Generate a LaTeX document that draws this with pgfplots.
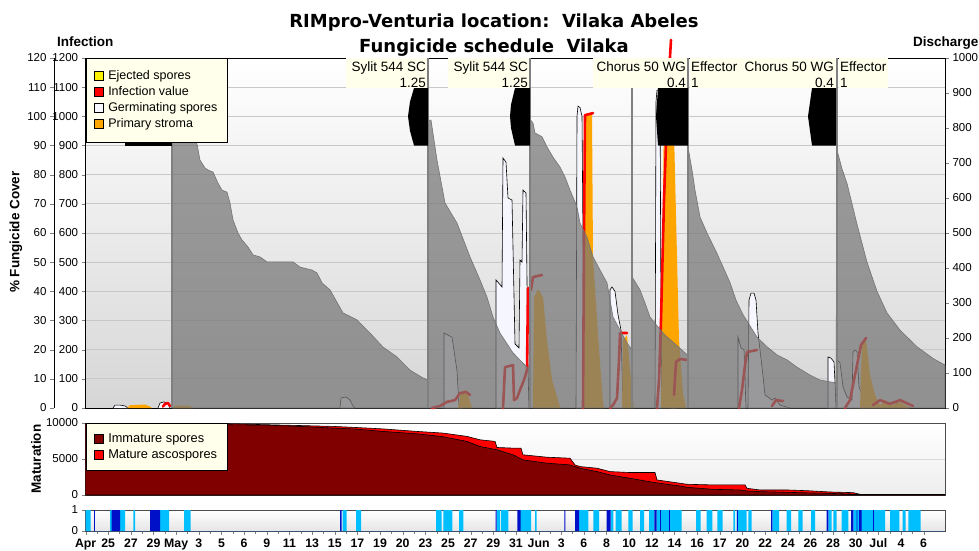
\documentclass[border=0pt]{standalone}
\usepackage{pgfplots}
\pgfplotsset{compat=1.18}
\usepackage{fontspec}
\setmainfont{Liberation Sans}
\newfontfamily\titlefont{DejaVu Sans}
\definecolor{cream}{RGB}{255,255,235}
\definecolor{germ}{RGB}{246,246,255}
\definecolor{stroma}{RGB}{255,165,0}
\definecolor{infred}{RGB}{255,0,0}
\definecolor{coverg}{RGB}{118,118,118}
\definecolor{appline}{RGB}{128,128,128}
\definecolor{immat}{RGB}{128,0,0}
\definecolor{lblue}{RGB}{0,191,255}
\definecolor{dblue}{RGB}{0,16,200}
\definecolor{gridc}{RGB}{200,200,200}
\newcommand\tickfont{\fontsize{11.5}{12}\selectfont}
\newcommand\lblfont{\fontsize{13.5}{16.2}\selectfont}
\pgfplotsset{
  /pgf/number format/assume math mode=true,
  germs/.style={forget plot, fill=germ, draw=black, line width=0.6pt},
  strom/.style={forget plot, fill=stroma, draw=none},
  infl/.style={forget plot, draw=infred, line width=2.6pt, line join=round, line cap=round},
  blk/.style={forget plot, fill=black, draw=none},
  appl/.style={forget plot, draw=appline, line width=2pt},
  sqlegend/.style={legend image code/.code={\draw[##1, draw=black, line width=0.5pt] (0pt,-4.5pt) rectangle (9pt,4.5pt); \path (0pt,0pt) (12pt,0pt);}},
}
\begin{document}
\begin{tikzpicture}
\useasboundingbox (0pt,0pt) rectangle (979pt,550pt);
\node[font=\titlefont\bfseries\fontsize{18}{20}\selectfont, anchor=base] at (494pt,522pt) {RIMpro-Venturia location:\ \ Vilaka Abeles};
\node[font=\titlefont\bfseries\fontsize{18}{20}\selectfont, anchor=base] at (494pt,497pt) {Fungicide schedule\ \ Vilaka};
\node[font=\bfseries\fontsize{13.5}{15}\selectfont, anchor=base west, inner sep=0pt] at (57pt,503pt) {Infection};
\node[font=\bfseries\fontsize{13.5}{15}\selectfont, anchor=base west, inner sep=0pt] at (913pt,503pt) {Discharge};
\node[font=\bfseries\fontsize{13.5}{15}\selectfont, rotate=90] at (16pt,318pt) {\% Fungicide Cover};
\node[font=\bfseries\fontsize{13.5}{15}\selectfont, rotate=90] at (36pt,91pt) {Maturation};

% outer left axis (percent)
\begin{axis}[at={(54pt,142pt)}, anchor=south west, scale only axis, width=31.6pt, height=350pt,
  xmin=0, xmax=1, ymin=0, ymax=120, hide x axis, axis y line*=left,
  ytick={0,10,...,120}, tick align=outside, major tick length=4pt,
  yticklabel style={font=\tickfont}, axis line style={black}]
\addplot[draw=none] coordinates {(0,0)};
\end{axis}

% right axis (discharge)
\begin{axis}[at={(85.6pt,142pt)}, anchor=south west, scale only axis, width=859.4pt, height=350pt,
  xmin=0, xmax=1, ymin=0, ymax=1000, hide x axis, axis y line*=right,
  ytick={0,100,...,1000}, tick align=outside, major tick length=4pt,
  yticklabel style={font=\tickfont}, scaled y ticks=false,
  /pgf/number format/1000 sep={}, axis line style={black}]
\addplot[draw=none] coordinates {(0,0)};
\end{axis}

% main axis
\begin{axis}[at={(85.6pt,142pt)}, anchor=south west, scale only axis, width=859.4pt, height=350pt,
  xmin=85.6, xmax=945, ymin=0, ymax=120, clip=false,
  xtick=\empty, ytick={0,10,...,120},
  yticklabels={0,100,200,300,400,500,600,700,800,900,1000,1100,1200},
  ytick pos=left, tick align=outside, major tick length=4pt,
  yticklabel style={font=\tickfont},
  ymajorgrids, grid style={gridc, line width=1pt},
  axis background/.style={shade, top color=white, bottom color=black!16},
  sqlegend,
  legend style={at={(0,1)}, anchor=north west, fill=cream, draw=black,
    font=\fontsize{12.5}{14}\selectfont, inner xsep=8pt, inner ysep=10.5pt, row sep=1.5pt,
    cells={anchor=west}},
  legend cell align=left]
\addlegendimage{fill=yellow}\addlegendentry{Ejected spores}
\addlegendimage{fill=infred}\addlegendentry{Infection value}
\addlegendimage{fill=germ}\addlegendentry{Germinating spores}
\addlegendimage{fill=stroma}\addlegendentry{Primary stroma}

% germinating spores
\addplot[germs] coordinates {(113,0)(115,1)(120,1)(125,0.7)(128,0)};
\addplot[germs] coordinates {(158,0)(160,1.7)(164,2.1)(168,1.4)(170,0)};
\addplot[germs] coordinates {(340,0)(341,3.4)(346,3.8)(350,2.7)(353,0.7)(355,0)};
\addplot[germs] coordinates {(444,0)(444,25.7)(452,24.3)(457,12.7)(459,1)(462,0)};
\addplot[germs] coordinates {(496,0)(496,43.9)(502,41.5)(503,85.7)(506,84.3)(508,72)(512,71.3)(515,22)(519,20.6)(520,50.7)(522,50)(523,74.7)(526,73.7)(528,13)(529,0)};
\addplot[germs] coordinates {(576,0)(577,100)(578,103.5)(580,103)(582,100)(583,58)(584,0)};
\addplot[germs] coordinates {(610,0)(610,40.5)(612,41.5)(615,40)(618,32)(621,26.7)(623,0)};
\addplot[germs] coordinates {(655,0)(656,105)(657,109)(660,109)(661,30)(662,0)};
\addplot[germs] coordinates {(671,0)(672,19)(675,17)(676,0)};
\addplot[germs] coordinates {(738,0)(738,24.3)(741,20.6)(744,19.9)(746,0)};
\addplot[germs] coordinates {(748,0)(749,37)(751,39.4)(754,39.4)(756,37)(758,25.7)(762,14)(765,4.5)(772,2.7)(775,3.4)(780,1)(790,0)};
\addplot[germs] coordinates {(828,0)(828,17.5)(831,17.1)(834,15.8)(835,8.6)(836,0)};
\addplot[germs] coordinates {(837,0)(837,16.5)(840,15.5)(843,7.2)(847,3.8)(852,2.7)(853,19.2)(855,19.9)(857,19.2)(859,7.2)(865,2.7)(870,1.7)(880,2.7)(887,1)(893,2.1)(900,1)(910,0)};

% primary stroma
\addplot[strom] coordinates {(127,0)(130,1)(145,1.2)(150,0.5)(152,0)};
\addplot[strom] coordinates {(173,0)(175,0.8)(190,0.8)(193,0)};
\addplot[strom] coordinates {(458,0)(461,5.1)(465,6.2)(468,4.5)(472,0)};
\addplot[strom] coordinates {(533,0)(534,38)(538,40.8)(543,38)(547,23.3)(552,9.6)(560,0.3)(561,0)};
\addplot[strom] coordinates {(582,0)(584,58)(586,101)(592,101)(593,51.8)(598,25)(603,1.7)(604,0)};
\addplot[strom] coordinates {(622,0)(623,23.3)(627,25)(630,13)(634,0)};
\addplot[strom] coordinates {(661,0)(662,30)(664,109)(673,109)(679,23.3)(683,5)(686,0)};
\addplot[strom] coordinates {(860,0)(862,21.6)(866,23.3)(870,11.3)(875,4.5)(880,1)(885,2.7)(892,1)(900,2)(910,0)};

% infection value
\addplot[infl] coordinates {(163,0.5)(165,1.4)(168,1.7)(170,0.7)};
\addplot[infl] coordinates {(432,0)(440,0.7)(447,2.1)(455,2.7)(460,5.1)(466,5.5)(470,4.5)};
\addplot[infl] coordinates {(503,0)(505,14)(513,14.7)(514,2.7)(517,3.4)(520,6.2)(524,9.6)(527,13)(528,41.1)(529,41.1)};
\addplot[infl] coordinates {(531,40.5)(533,44.9)(542,45.6)};
\addplot[infl] coordinates {(583,0)(584,58.6)(585,100.4)(593,101.1)};
\addplot[infl] coordinates {(610,0)(613,1)(617,3.4)(619,16.5)(620,25.7)(627,25.7)};
\addplot[infl] coordinates {(657,0)(659,9.6)(661,30.2)(664,71.3)(668,109)(671,126.2)};
\addplot[infl] coordinates {(674,4.5)(676,15.8)(680,16.8)(687,16.5)};
\addplot[infl] coordinates {(739,0)(742,6.2)(745,14.7)(747,19.2)(757,19.9)};
\addplot[infl] coordinates {(772,0.7)(776,2.7)(783,2.4)};
\addplot[infl] coordinates {(845,0)(850,2.7)(853,7.9)(856,13)(858,16.5)(861,21.6)(866,24)};
\addplot[infl] coordinates {(873,1)(880,2.7)(890,1.4)(900,2.7)(913,0.7)};

% fungicide cover
\addplot[forget plot, fill=coverg, fill opacity=0.72, draw=black!55, line width=0.6pt] coordinates {
(172,0)(172,99)(185,96)(197,90.5)(200,85)(205,82.3)(208,81.6)(213,80.9)(218,77.1)(222,74.7)(227,74)(230,70.3)(233,64.5)(238,60)(242,57.6)(248,55.2)(253,52.5)(260,51.8)(267,50.1)(293,50.1)(300,48.3)(312,47.3)(317,46.3)(322,42.9)(330,40.5)(343,32.6)(357,30.2)(370,25.7)(383,20.9)(397,17.5)(410,13)(423,10.3)(428,9.6)
(428,98.7)(431,98.7)(437,85)(445,70.3)(457,63.4)(470,51.8)(480,43.9)(487,38)(493,31.2)(500,25.7)(513,18.9)(523,15.4)(530,13)
(530,99)(533,97.7)(535,94.3)(542,93)(547,89.5)(553,86)(560,82.6)(565,79.2)(570,74.7)(577,69)(580,63.4)(587,58.6)(593,51.8)(600,47.3)(607,42.9)(613,31.2)(620,26.7)(627,22.3)(632,19.9)
(632,45)(640,40.5)(645,36)(650,31.2)(655,29)(665,25)(675,22)(688,18)
(688,89.5)(692,81.6)(695,74.7)(700,65.5)(707,60)(717,53)(730,43)(736,37)(743,32)(757,24.3)(767,21)(777,18.2)(787,16.5)(797,14)(810,11.3)(820,9.6)(836,8.6)
(837,88.4)(842,82)(847,77)(857,63)(867,50)(877,40)(887,32.6)(900,26.7)(917,21)(933,17)(945,14.7)} \closedcycle;

% application lines
\addplot[appl] coordinates {(172,0)(172,120)};
\addplot[appl] coordinates {(428,0)(428,120)};
\addplot[appl] coordinates {(530,0)(530,120)};
\addplot[appl] coordinates {(632,0)(632,120)};
\addplot[appl] coordinates {(688,0)(688,120)};
\addplot[appl] coordinates {(837,0)(837,120)};

% spray blocks
\addplot[blk] coordinates {(125,109.7)(172,109.7)(172,90)(125,90)};
\addplot[blk] coordinates {(414,109.7)(410,105)(408,100)(410,95)(414,90)(428,90)(428,109.7)};
\addplot[blk] coordinates {(515,109.7)(511,104)(510,100)(511,96)(515,90)(530,90)(530,109.7)};
\addplot[blk] coordinates {(658,109.7)(656,100)(658,90)(688,90)(688,109.7)};
\addplot[blk] coordinates {(812,109.7)(808,100)(812,90)(836,90)(836,109.7)};

% fungicide labels
\fill[cream] (axis cs:346,109.7) rectangle (axis cs:427,120);
\fill[cream] (axis cs:448,109.7) rectangle (axis cs:529,120);
\fill[cream] (axis cs:593,109.7) rectangle (axis cs:687,120);
\fill[cream] (axis cs:689.5,109.7) rectangle (axis cs:836,120);
\fill[cream] (axis cs:838.5,109.7) rectangle (axis cs:888,120);
\node[anchor=north east, align=right, inner sep=0pt, font=\lblfont] at (axis cs:426,118.7) {Sylit 544 SC\\1.25};
\node[anchor=north east, align=right, inner sep=0pt, font=\lblfont] at (axis cs:528,118.7) {Sylit 544 SC\\1.25};
\node[anchor=north east, align=right, inner sep=0pt, font=\lblfont] at (axis cs:686,118.7) {Chorus 50 WG\\0.4};
\node[anchor=north west, align=left, inner sep=0pt, font=\lblfont] at (axis cs:691,118.7) {Effector\\1};
\node[anchor=north east, align=right, inner sep=0pt, font=\lblfont] at (axis cs:834,118.7) {Chorus 50 WG\\0.4};
\node[anchor=north west, align=left, inner sep=0pt, font=\lblfont] at (axis cs:840,118.7) {Effector\\1};
\end{axis}

% maturation
\begin{axis}[at={(85.6pt,55pt)}, anchor=south west, scale only axis, width=859.4pt, height=72pt,
  xmin=85.6, xmax=945, ymin=0, ymax=10000,
  xtick=\empty, ytick={0,5000,10000}, ytick pos=left, tick align=outside, major tick length=4pt,
  yticklabel style={font=\tickfont}, scaled y ticks=false, /pgf/number format/1000 sep={},
  ymajorgrids, grid style={black!15, line width=1pt},
  axis background/.style={shade, top color=white, bottom color=black!7},
  axis line style={black!70, line width=0.8pt},
  sqlegend,
  legend style={at={(0,1)}, anchor=north west, fill=cream, draw=black,
    font=\fontsize{12.8}{14}\selectfont, inner xsep=8pt, inner ysep=8.5pt, row sep=1.8pt,
    cells={anchor=west}},
  legend cell align=left]
\addlegendimage{fill=immat}\addlegendentry{Immature spores}
\addlegendimage{fill=infred}\addlegendentry{Mature ascospores}
\addplot[forget plot, fill=infred, draw=black, line width=0.6pt] coordinates {
(85.6,10000)(225,10000)(227,9900)(267,9760)(300,9650)(333,9530)(353,9400)(383,9180)(417,8830)(443,8600)(467,8140)(480,7670)(495,7440)(497,6600)(513,6510)(521,6500)(523,5580)(547,5250)(570,5110)(575,4180)(580,3950)(597,3720)(610,3250)(630,3120)(655,3120)(657,2090)(680,1630)(687,1490)(713,1400)(745,1400)(747,930)(760,700)(787,700)(807,600)(830,420)(853,330)(860,90)(945,80)} \closedcycle;
\addplot[forget plot, fill=immat, draw=black, line width=0.6pt] coordinates {
(85.6,10000)(225,10000)(227,9760)(267,9700)(300,9530)(333,9300)(353,9180)(363,9070)(383,8830)(417,8500)(443,8100)(467,7440)(480,6740)(497,6280)(513,5580)(523,4880)(547,4420)(570,4180)(580,3720)(597,3250)(610,2790)(630,2320)(655,1720)(680,1250)(687,1070)(713,790)(740,700)(747,560)(760,470)(787,370)(830,230)(860,90)(945,80)} \closedcycle;
\end{axis}

% wetness strip
\begin{axis}[at={(85.6pt,19pt)}, anchor=south west, scale only axis, width=859.4pt, height=21pt,
  xmin=85.6, xmax=945, ymin=0, ymax=1,
  ytick={0,1}, ytick pos=left, xtick pos=bottom, tick align=outside, major tick length=4pt,
  minor x tick num=1, minor tick length=2.5pt,
  xtick={85.6,108.25,...,924},
  xticklabels={Apr,25,27,29,May,3,5,6,9,11,13,15,17,19,20,23,25,27,29,31,Jun,3,6,8,10,12,14,16,17,20,22,24,26,28,30,Jul,4,6},
  xticklabel style={font=\bfseries\fontsize{12.3}{13}\selectfont},
  yticklabel style={font=\tickfont},
  axis background/.style={shade, top color=white, bottom color=black!10},
  axis line style={black!70, line width=0.8pt}]
\addplot[forget plot, const plot, fill=lblue, draw=none] coordinates {
(85.6,0)(85.7,1)(90.7,0)(110,1)(125,0)(133.3,1)(135,0)(160,1)(169,0)(184,1)(190.7,0)(342.7,1)(346.7,0)(356,1)(361,0)(436,1)(441.7,0)(443.3,1)(452.3,0)(459,1)(463.3,0)(496.7,1)(500,0)(501,1)(508.3,0)(520,1)(531,0)(535,1)(536.7,0)(575,1)(588.3,0)(593.3,1)(599,0)(610.7,1)(613.3,0)(615.7,1)(621.7,0)(628.3,1)(632.7,0)(640,1)(644,0)(649,1)(654.3,0)(656.7,1)(681.7,0)(696,1)(700.7,0)(706.7,1)(712.3,0)(717.3,1)(722.7,0)(733.3,1)(735,0)(736.7,1)(746.7,0)(748.3,1)(751.7,0)(772.3,1)(779,0)(786.7,1)(791,0)(798.3,1)(802.7,0)(811,1)(815,0)(828.3,1)(831.7,0)(833.3,1)(836.7,0)(841.7,1)(848.3,0)(853.3,1)(885,0)(890,1)(899.3,0)(902.7,1)(905.7,0)(908.3,1)(920.7,0)(945,0)} \closedcycle;
\addplot[forget plot, const plot, fill=dblue, draw=none] coordinates {
(85.6,0)(94,1)(94.8,0)(111.7,1)(120,0)(150,1)(160,0)(340,1)(341.7,0)(495.7,1)(496.7,0)(517.3,1)(520.7,0)(564.3,1)(565.3,0)(575,1)(579,0)(606.7,1)(610.7,0)(654.3,1)(656.7,0)(660,1)(660.8,0)(669,1)(669.8,0)(737,1)(737.8,0)(771,1)(772.3,0)(826.7,1)(828.3,0)(851,1)(853.3,0)(856.5,1)(857.3,0)(859,1)(861.7,0)(873,1)(873.8,0)(945,0)} \closedcycle;
\end{axis}
\end{tikzpicture}
\end{document}
